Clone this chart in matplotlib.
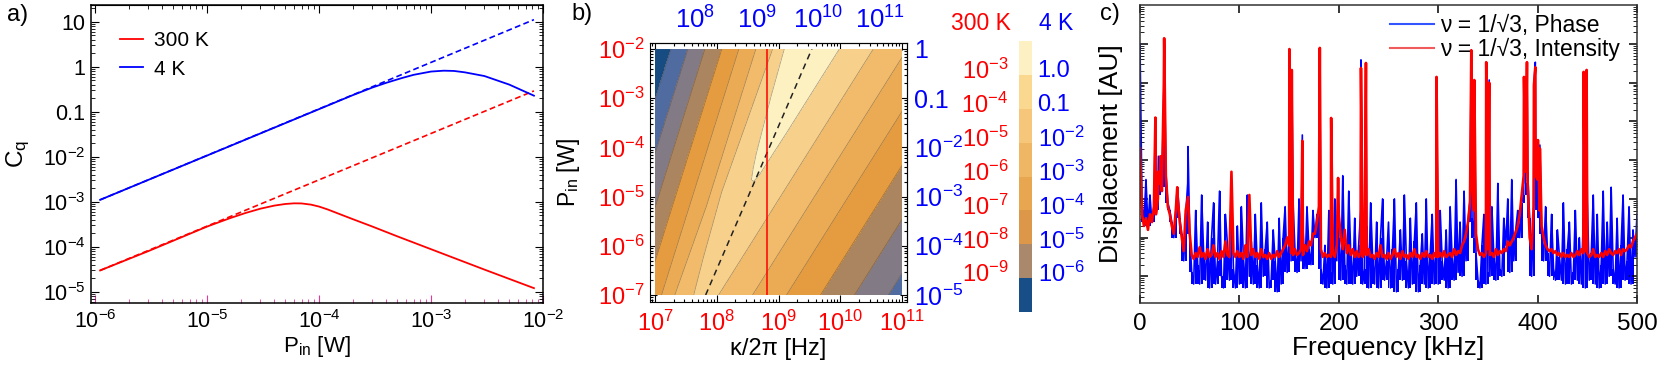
#!/usr/bin/env python3

import numpy as np
import matplotlib
matplotlib.use('Agg')
import matplotlib.pyplot as plt
from matplotlib.colors import ListedColormap
from matplotlib.lines import Line2D
from matplotlib.ticker import LogLocator, NullLocator, NullFormatter
from matplotlib.transforms import blended_transform_factory

W, H = 1661, 365

# ---------------- a) Cq vs input power ----------------
p_4k = [1.11e-6, 1e-5, 1e-4, 2e-4, 3e-4, 4e-4, 5.5e-4, 7e-4, 1e-3, 1.3e-3,
        1.6e-3, 2e-3, 3e-3, 5e-3, 8.3e-3]
cq_4k = [1.10e-3, 1.06e-2, 0.114, 0.233, 0.345, 0.44, 0.56, 0.66, 0.78, 0.815,
         0.805, 0.75, 0.62, 0.40, 0.227]
p_300k = [1.11e-6, 3e-6, 1e-5, 1.6e-5, 2.2e-5, 3e-5, 4e-5, 5e-5, 6e-5, 7e-5,
          8.5e-5, 1e-4, 1.2e-4, 1.5e-4, 2e-4, 3e-4, 5e-4, 1e-3, 3e-3, 8.3e-3]
cq_300k = [2.97e-5, 8.0e-5, 2.8e-4, 4.3e-4, 5.6e-4, 7.0e-4, 8.2e-4, 8.9e-4, 9.2e-4, 9.15e-4,
           8.6e-4, 7.8e-4, 6.7e-4, 5.4e-4, 4.1e-4, 2.8e-4, 1.7e-4, 8.8e-5, 3.1e-5, 1.2e-5]
# dashed: no back-action limit
p_lin = [1.11e-6, 8.3e-3]
cq_lin_4k = [1.10e-3, 11.1]
cq_lin_300k = [2.97e-5, 0.29]

# ---------------- b) Cq map over kappa and P ----------------
logp_rows = [-7.0, -2.0]         # log10 P_in [W], bottom and top edge
ridge_logk = [7.78, 9.45]        # log10 kappa/2pi of the Cq ridge on those rows
ridge_logcq = [-3.60, -1.93]     # log10 Cq (300 K) on the ridge
dk = [-2.5, -2.0, -1.5, -1.0, -0.55, -0.4, -0.25, -0.1, -0.05, 0.0, 0.05, 0.1, 0.25,
      0.5, 1.0, 1.5, 2.0, 2.5, 3.0, 3.5]            # offset from ridge, decades
dcq = [-10.0, -8.0, -6.0, -4.0, -2.2, -1.2, -0.75, -0.36, -0.26, -0.181, -0.172, -0.225, -0.501,
       -1.0, -2.0, -3.0, -4.0, -5.0, -6.0, -7.0]    # drop of log10 Cq across ridge
cq_levels = [-13.0, -10.7, -9.6, -8.5, -7.4, -6.3, -5.2, -4.1, -3.0, 0.0]
band_colors = ['#174c82', '#4f6b9f', '#827a85', '#ab855f', '#e59c40',
               '#ebab55', '#f1bb6b', '#f7d08b', '#fdf0c1']
opt_logk = [7.82, 9.54]          # dashed optimum line
opt_logp = [-7.0, -2.0]
kappa_dev = 8.81                 # red vertical line, log10 Hz
kappa_4k_shift = 0.35            # top axis offset (decades)
p_4k_shift = 2.0                 # right axis offset (decades)

cb_colors = ['#174e87', '#a9886b', '#dc9848', '#e8a650', '#efb663',
             '#f6c67b', '#fbd88f', '#fdf1c3']
cb_300k = [r'$10^{-9}$', r'$10^{-8}$', r'$10^{-7}$', r'$10^{-6}$', r'$10^{-5}$',
           r'$10^{-4}$', r'$10^{-3}$']
cb_4k = [r'$10^{-6}$', r'$10^{-5}$', r'$10^{-4}$', r'$10^{-3}$', r'$10^{-2}$', '0.1', '1.0']

# ---------------- c) displacement spectra (log10 AU) ----------------
freq = np.arange(0, 501, 2)      # kHz, every 2 kHz
phase_log = [
    0.0, -4.1, -4.6, -3.5, -4.7, -3.9, -4.6, -4.2, -4.3, -3.9, -3.6, -3.7, -1.2, -3.3, -4.1, -4.3, -4.6, -5.0, -4.3, -3.8, -4.5, -4.9, -5.6, -4.4, -3.6,
    -4.9, -5.9, -6.2, -4.3, -5.7, -6.2, -3.9, -5.4, -6.1, -4.6, -6.3, -5.0, -4.1, -6.2, -5.6, -3.8, -6.0, -6.3, -4.4, -5.2, -6.1, -4.0, -5.8, -6.3, -4.7,
    -6.2, -4.2, -5.5, -6.3, -3.9, -6.0, -5.1, -6.2, -4.4, -5.7, -6.3, -4.1, -6.0, -5.3, -4.6, -6.3, -6.1, -4.8, -5.6, -6.4, -4.5, -6.2, -5.0, -4.2, -5.9,
    -5.0, -5.6, -4.1, -5.4, -5.9, -4.0, -5.6, -4.8, -5.8, -4.2, -5.3, -5.7, -4.3, -5.0, -4.4, -4.6, -5.8, -6.2, -5.2, -6.3, -4.3, -5.9, -6.2, -4.0, -5.6,
    -5.0, -6.1, -3.4, -5.7, -6.2, -3.8, -5.4, -6.2, -4.5, -6.0, -5.2, -4.3, -6.2, -5.8, -4.7, -6.3, -4.1, -5.5, -6.2, -4.6, -6.3, -5.0, -4.0, -6.1, -5.6,
    -4.6, -6.3, -5.3, -4.0, -6.4, -5.8, -4.8, -6.1, -3.9, -5.6, -6.3, -4.5, -6.2, -5.1, -4.1, -6.4, -5.7, -4.9, -6.2, -4.0, -6.3, -5.4, -4.4, -6.2, -5.2,
    -6.2, -4.3, -5.6, -6.1, -4.8, -6.3, -4.2, -5.5, -6.1, -3.5, -5.9, -4.6, -6.0, -3.8, -5.6, -4.6, -4.0, -4.5, -5.0, -5.4, -6.1, -6.3, -5.2, -4.4, -6.2,
    -5.9, -6.0, -4.2, -5.5, -6.1, -3.6, -5.8, -6.0, -4.5, -5.2, -4.0, -5.9, -3.5, -5.6, -4.8, -4.3, -5.0, -4.1, -3.9, -3.6, -3.3, -4.5, -6.0, -4.3, -3.4,
    -3.6, -4.5, -4.9, -5.6, -4.2, -5.4, -6.0, -4.4, -5.8, -6.1, -4.8, -5.5, -6.1, -4.1, -6.2, -5.3, -4.6, -6.2, -5.9, -4.3, -6.1, -5.0, -6.2, -4.5, -6.3,
    -4.0, -6.1, -5.4, -3.9, -6.2, -4.4, -6.3, -5.7, -3.8, -6.2, -4.6, -6.0, -3.7, -5.8, -6.2, -4.5, -6.3, -5.2, -3.9, -6.1, -5.6, -4.2, -6.2, -4.8, -5.5,
    -4.4]
intensity_log = [
    -2.7, -4.4, -4.7, -4.5, -4.8, -4.4, -4.6, -4.2, -4.4, -4.0, -3.6, -3.8, -1.0, -3.4, -4.2, -4.4, -4.7, -4.9, -4.3, -4.0, -4.6, -5.0, -5.35, -4.3, -4.0,
    -4.9, -5.45, -5.55, -5.4, -5.5, -5.25, -5.5, -5.4, -5.55, -5.3, -5.5, -5.45, -5.2, -5.5, -5.4, -5.55, -5.35, -5.5, -5.1, -5.45, -5.5, -3.3, -5.4, -5.5, -5.35,
    -5.5, -5.4, -5.55, -5.2, -5.5, -3.9, -5.45, -5.3, -5.5, -5.4, -5.55, -5.3, -5.5, -5.45, -5.55, -5.4, -5.55, -5.45, -5.5, -5.35, -5.5, -5.4, -5.3, -5.2, -5.0,
    -5.2, -5.4, -5.45, -5.3, -5.45, -5.4, -5.3, -5.45, -5.2, -5.35, -5.1, -5.2, -4.9, -4.9, -4.6, -4.2, -5.3, -5.5, -5.4, -5.5, -5.45, -5.5, -5.4, -5.5, -5.2,
    -4.4, -5.0, -5.3, -4.8, -5.4, -5.2, -5.45, -5.3, -5.5, -5.35, -5.5, -5.4, -5.5, -5.4, -5.45, -5.3, -5.5, -5.45, -5.55, -5.4, -5.5, -5.2, -5.5, -5.45, -5.55,
    -5.4, -5.55, -5.45, -5.3, -5.5, -5.4, -5.55, -5.35, -5.5, -5.45, -5.55, -5.4, -5.5, -5.3, -5.5, -5.45, -5.55, -5.4, -5.5, -5.35, -5.5, -5.45, -5.55, -5.4, -5.5,
    -5.5, -5.4, -5.5, -5.35, -5.5, -5.45, -5.4, -5.5, -5.3, -5.45, -5.35, -5.4, -5.2, -5.1, -4.9, -4.6, -4.1, -3.5, -4.3, -4.9, -5.3, -5.45, -5.4, -5.5, -5.4,
    -5.3, -5.45, -5.4, -5.5, -5.3, -5.45, -5.35, -5.4, -5.3, -5.35, -5.1, -5.2, -5.1, -5.0, -4.85, -4.7, -4.4, -3.9, -3.4, -3.3, -3.6, -5.0, -5.3, -4.2, -3.4,
    -3.5, -4.3, -4.7, -5.0, -5.2, -5.3, -5.35, -5.3, -5.4, -5.35, -5.45, -5.4, -5.5, -5.4, -5.5, -5.45, -5.5, -5.4, -5.5, -5.45, -5.35, -5.45, -5.3, -5.4, -5.35,
    -5.4, -5.5, -5.45, -5.3, -5.5, -5.45, -5.5, -5.4, -5.5, -5.35, -5.45, -5.3, -5.4, -5.45, -5.35, -5.4, -5.3, -5.45, -5.3, -5.35, -5.3, -5.2, -5.25, -5.1, -5.0,
    -4.9]
peak_f = [15.5, 18.5, 20.5, 24.3, 37.5, 48.3, 150.3, 152.7, 163.3, 180.9, 192.3, 199.3,
          222.3, 227.3, 298.3, 333.3, 336.3, 348.3, 351.3, 386.3, 389.3, 396.3, 397.7,
          400.3, 402.3, 446.3, 449.3]
peak_phase = [-1.95, -2.9, -3.2, 0.03, -3.7, -2.65, -0.13, -0.70, -2.35, -0.10, -1.91, -3.46,
              -0.41, -0.49, -0.85, -0.16, -0.93, -0.47, -0.93, -0.85, -0.47, -1.06, -0.47,
              -2.48, -2.61, -0.72, -0.67]
peak_intensity = [-1.9, -3.3, -2.9, 0.15, -3.7, -3.95, -0.13, -0.67, -2.5, -0.10, -1.91, -3.46,
                  -0.62, -0.49, -0.85, -0.16, -0.93, -0.47, -1.0, -0.85, -0.47, -1.06, -0.6,
                  -2.48, -2.7, -0.72, -0.67]

plt.rcParams['font.family'] = ['Liberation Sans', 'DejaVu Sans']
plt.rcParams['mathtext.fontset'] = 'custom'
plt.rcParams['mathtext.rm'] = 'Liberation Sans'
plt.rcParams['mathtext.it'] = 'Liberation Sans:italic'
plt.rcParams['mathtext.bf'] = 'Liberation Sans:bold'
plt.rcParams['mathtext.default'] = 'regular'

RED, BLUE = '#ff0000', '#0000ff'


def rect(l, t, r, b):
    return [l / W, 1 - b / H, (r - l) / W, (b - t) / H]


def ftext(x, y, s, **kw):
    fig.text(x / W, 1 - y / H, s, **kw)


def sci(e):
    return r'$10^{%d}$' % e


def minor_log(axis):
    axis.set_minor_locator(LogLocator(base=10, subs=np.arange(2, 10), numticks=100))
    axis.set_minor_formatter(NullFormatter())


fig = plt.figure(figsize=(W / 100, H / 100), dpi=100)

# ================= panel a =================
ax = fig.add_axes(rect(91, 5, 543, 303))
ax.set_xscale('log')
ax.set_yscale('log')
dash = (0, (3.5, 2))
ax.plot(p_lin, cq_lin_4k, color=BLUE, lw=1.2, ls=dash)
ax.plot(p_lin, cq_lin_300k, color=RED, lw=1.2, ls=dash)
l300, = ax.plot(p_300k, cq_300k, color=RED, lw=1.3)
l4, = ax.plot(p_4k, cq_4k, color=BLUE, lw=1.3)
ax.set_xlim(10 ** -6.036, 1e-2)
ax.set_ylim(10 ** -5.251, 10 ** 1.371)
ax.set_xticks([10.0 ** e for e in range(-6, -1)], [sci(e) for e in range(-6, -1)])
ax.set_yticks([10.0 ** e for e in range(-5, 2)],
              [sci(-5), sci(-4), sci(-3), sci(-2), '0.1', '1', '10'])
minor_log(ax.xaxis)
minor_log(ax.yaxis)
ax.tick_params(which='both', direction='in', top=False, right=True, labelsize=15.5)
ax.tick_params(which='major', length=6)
ax.tick_params(which='minor', length=3)
ax.tick_params(axis='x', which='both', color='#e8359b', pad=5)
ax.tick_params(axis='y', pad=4)
top = ax.secondary_xaxis('top')
top.tick_params(which='both', direction='in', labeltop=False)
top.tick_params(which='major', length=6)
top.tick_params(which='minor', length=3)
ax.set_xlabel(r'$P_{in}$ [W]', fontsize=16)
ax.xaxis.set_label_coords(0.5, -0.105)
ax.set_ylabel(r'$C_q$', fontsize=17.5)
ax.yaxis.set_label_coords(-0.13, 0.5)
ax.legend([l300, l4], ['300 K', '4 K'], loc='upper left', bbox_to_anchor=(0.045, 0.94),
          frameon=False, fontsize=15, handlelength=1.1, handletextpad=0.55,
          labelspacing=0.45, borderaxespad=0)
for sp in ax.spines.values():
    sp.set_linewidth(1.1)
ftext(7, 4, 'a)', fontsize=17, ha='left', va='top')

# ================= panel b =================
fl, ft, fr, fb = 650, 43, 907, 302      # frame
dl, dt, dr, db = 655, 49, 902, 295      # data area
ppx = (dr - dl) / 4.0
ppy = (db - dt) / 5.0
frame = fig.add_axes(rect(fl, ft, fr, fb))
frame.set_xscale('log')
frame.set_yscale('log')
frame.set_xlim(10 ** (7 - (dl - fl) / ppx), 10 ** (11 + (fr - dr) / ppx))
frame.set_ylim(10 ** (-7 - (fb - db) / ppy), 10 ** (-2 + (dt - ft) / ppy))
frame.set_xticks([10.0 ** e for e in range(7, 12)], [sci(e) for e in range(7, 12)])
frame.set_yticks([10.0 ** e for e in range(-7, -1)], [sci(e) for e in range(-7, -1)])
minor_log(frame.xaxis)
minor_log(frame.yaxis)
frame.tick_params(which='both', direction='in', top=True, right=True, labelsize=17,
                  labelcolor=RED, width=0.8)
frame.tick_params(which='major', length=5)
frame.tick_params(which='minor', length=2.5)
frame.tick_params(axis='x', pad=6)
frame.tick_params(axis='y', pad=4)
frame.set_xlabel('κ/2π [Hz]', fontsize=17)
frame.xaxis.set_label_coords(0.5, -0.14)
frame.set_ylabel(r'$P_{in}$ [W]', fontsize=16.5)
frame.yaxis.set_label_coords(-0.265, 0.5)

top_b = frame.secondary_xaxis('top', functions=(lambda k: k * 10 ** kappa_4k_shift,
                                                lambda k: k / 10 ** kappa_4k_shift))
top_b.set_xticks([10.0 ** e for e in range(8, 12)], [sci(e) for e in range(8, 12)])
top_b.xaxis.set_minor_locator(NullLocator())
top_b.tick_params(length=0, labelsize=18.5, labelcolor=BLUE, pad=7)
right_b = frame.secondary_yaxis('right', functions=(lambda p: p * 10 ** p_4k_shift,
                                                    lambda p: p / 10 ** p_4k_shift))
right_b.set_yticks([10.0 ** e for e in range(-5, 1)],
                   [sci(-5), sci(-4), sci(-3), sci(-2), '0.1', '1'])
right_b.yaxis.set_minor_locator(NullLocator())
right_b.tick_params(length=0, labelsize=18, labelcolor=BLUE, pad=5)

field = fig.add_axes(rect(dl, dt, dr, db))
field.patch.set_alpha(0)
kx = np.add.outer(ridge_logk, dk)
py = np.repeat(np.array(logp_rows)[:, None], len(dk), axis=1)
cz = np.add.outer(ridge_logcq, dcq)
field.contourf(kx, py, cz, levels=cq_levels, colors=band_colors)
field.contour(kx, py, cz, levels=cq_levels[1:-1], colors='#5e4e3c', linewidths=0.5,
              linestyles='solid', alpha=0.55)
field.plot(opt_logk, opt_logp, color='#222222', lw=1.1, ls=(0, (4, 3)))
field.plot([kappa_dev, kappa_dev], logp_rows, color=RED, lw=1.1)
field.set_xlim(7, 11)
field.set_ylim(-7, -2)
field.set_axis_off()
ftext(571, 3, 'b)', fontsize=17, ha='left', va='top')

# colour legend
cb = fig.add_axes(rect(1019, 41, 1031, 312))
cb.imshow(np.arange(len(cb_colors))[:, None], cmap=ListedColormap(cb_colors), origin='lower',
          aspect='auto', extent=(0, 1, 0, len(cb_colors)), interpolation='nearest')
cb.set_axis_off()
tr = blended_transform_factory(cb.transAxes, cb.transData)
for k in range(len(cb_300k)):
    cb.text(-0.9, k + 1.1, cb_300k[k], transform=tr, ha='right', va='center',
            color=RED, fontsize=17)
    cb.text(1.55, k + 1.1, cb_4k[k], transform=tr, ha='left', va='center',
            color=BLUE, fontsize=17)
ftext(981, 24, '300 K', color=RED, fontsize=16.5, ha='center', va='center')
ftext(1056, 24, '4 K', color=BLUE, fontsize=16.5, ha='center', va='center')

# ================= panel c =================
axc = fig.add_axes(rect(1140, 5, 1637, 303))
axc.set_yscale('log')
# dense trace: each 2 kHz bin is filled down to the lowest of its neighbours
ph_grid = 10.0 ** np.array(phase_log)
ph_low = np.minimum(ph_grid, np.minimum(np.r_[ph_grid[0], ph_grid[:-1]],
                                        np.r_[ph_grid[1:], ph_grid[-1]]))
axc.fill_between(freq, ph_low, ph_grid, step='mid', color=BLUE, lw=0)
order = np.argsort(np.concatenate([freq, peak_f]), kind='stable')
f_all = np.concatenate([freq, peak_f])[order]
ph = 10.0 ** np.concatenate([phase_log, peak_phase])[order]
it = 10.0 ** np.concatenate([intensity_log, peak_intensity])[order]
axc.plot(f_all, ph, color=BLUE, lw=1.2)
axc.plot(f_all, it, color=RED, lw=1.9)
axc.set_xlim(0, 500)
axc.set_ylim(10 ** -6.69, 10 ** 1.008)
axc.set_xticks([0, 100, 200, 300, 400, 500])
axc.set_yticks([10.0 ** e for e in range(-6, 1)])
axc.yaxis.set_major_formatter(NullFormatter())
minor_log(axc.yaxis)
axc.tick_params(which='both', direction='in', top=True, right=True, labelsize=17.5)
axc.tick_params(which='major', length=6, width=1.1)
axc.tick_params(which='minor', length=3)
axc.tick_params(axis='x', pad=7)
axc.set_xlabel('Frequency [kHz]', fontsize=19)
axc.xaxis.set_label_coords(0.5, -0.11)
axc.set_ylabel('Displacement [AU]', fontsize=19)
axc.yaxis.set_label_coords(-0.035, 0.5)
for sp in axc.spines.values():
    sp.set_linewidth(1.1)
    sp.set_color('#333333')
handles = [Line2D([], [], color='#3355ff', lw=1.5), Line2D([], [], color='#f05a5a', lw=1.5)]
axc.legend(handles, ['ν = 1/√3, Phase', 'ν = 1/√3, Intensity'], loc='upper right',
           bbox_to_anchor=(0.985, 1.0), frameon=False, fontsize=16.5, handlelength=1.9,
           handletextpad=0.3, labelspacing=0.02, borderaxespad=0)
ftext(1100, 3, 'c)', fontsize=17, ha='left', va='top')

fig.savefig('out.png', dpi=100)
